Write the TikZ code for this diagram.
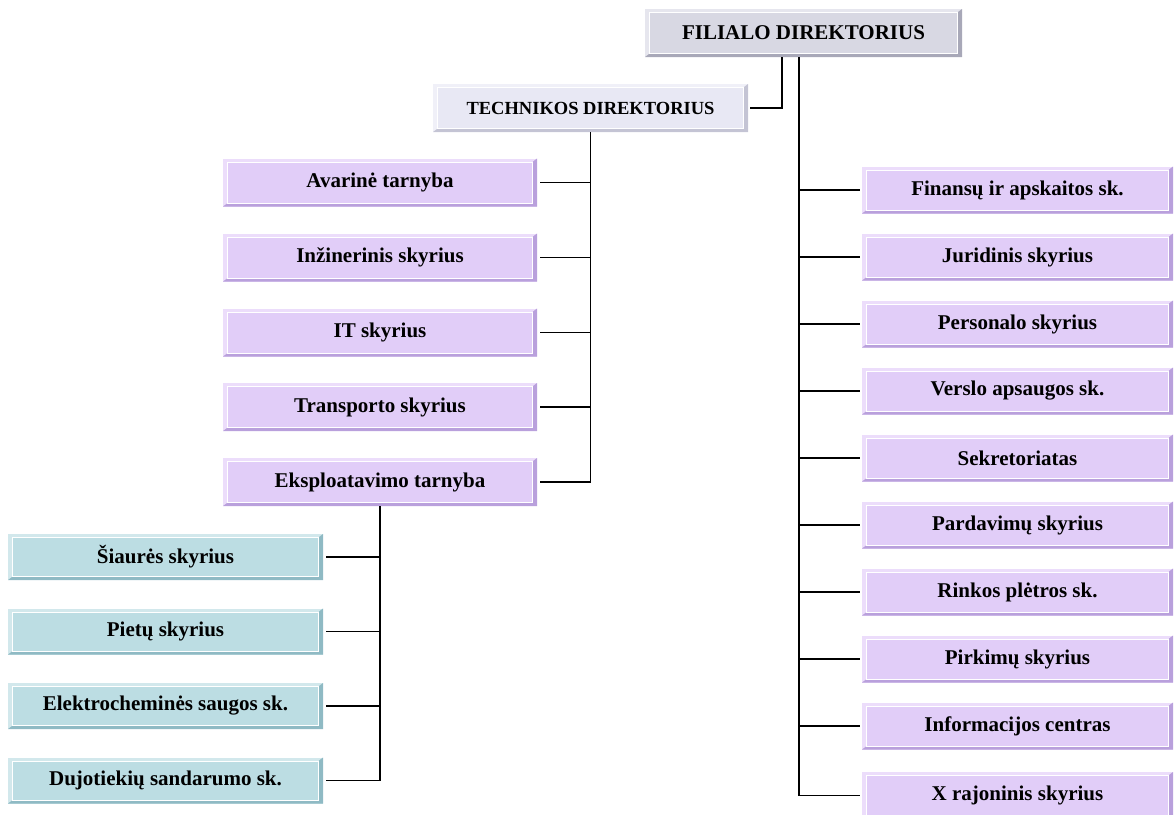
\documentclass[tikz,border=0pt]{standalone}
\usepackage{fontspec}
\setmainfont{Liberation Serif}
\definecolor{pfill}{HTML}{E1CDF8}
\definecolor{pdark}{HTML}{B9A0DC}
\definecolor{plight}{HTML}{ECDDFB}
\definecolor{bfill}{HTML}{BCDDE3}
\definecolor{bdark}{HTML}{8FBAC4}
\definecolor{blight}{HTML}{D2E8EC}
\definecolor{gfill}{HTML}{D8D8E3}
\definecolor{gdark}{HTML}{A8A8B8}
\definecolor{glight}{HTML}{E6E6EE}
\definecolor{tfill}{HTML}{E8E8F4}
\definecolor{tdark}{HTML}{C4C4D4}
\definecolor{tlight}{HTML}{F0F0F8}
\tikzset{
  bevel/.style n args={3}{
    fill=#1, inner sep=0pt, font=\bfseries\fontsize{21}{23}\selectfont,
    path picture={
      \fill[#3] (path picture bounding box.north west) rectangle (path picture bounding box.south east);
      \fill[#2] (path picture bounding box.north east) -- (path picture bounding box.south east)
        -- (path picture bounding box.south west) -- ([shift={(4pt,3pt)}]path picture bounding box.south west)
        -- ([shift={(-4pt,3pt)}]path picture bounding box.south east) -- ([shift={(-4pt,-3pt)}]path picture bounding box.north east) -- cycle;
      \draw[white, line width=1pt] ([shift={(4.5pt,3.5pt)}]path picture bounding box.south west) rectangle ([shift={(-4.5pt,-3.5pt)}]path picture bounding box.north east);
      \fill[#1] ([shift={(5pt,4pt)}]path picture bounding box.south west) rectangle ([shift={(-5pt,-4pt)}]path picture bounding box.north east);
    }},
  pbox/.style={bevel={pfill}{pdark}{plight}, minimum width=314pt, minimum height=48pt},
  rbox/.style={bevel={pfill}{pdark}{plight}, minimum width=311pt, minimum height=47pt},
  bbox/.style={bevel={bfill}{bdark}{blight}, minimum width=315pt, minimum height=46pt},
  gbox/.style={bevel={gfill}{gdark}{glight}, minimum width=317pt, minimum height=48pt},
  tbox/.style={bevel={tfill}{tdark}{tlight}, minimum width=315pt, minimum height=48pt, font=\bfseries\fontsize{18.5}{20}\selectfont},
  conn/.style={line width=1.5pt, black}
}
\begin{document}
\begin{tikzpicture}[x=1pt,y=-1pt]
\useasboundingbox (0,0) rectangle (1175,814);
\clip (0,0) rectangle (1175,814);
\node[gbox] (fil) at (803.5,33) {FILIALO DIREKTORIUS};
\node[tbox] (tech) at (590.5,108) {TECHNIKOS DIREKTORIUS};
\node[pbox] (l1) at (380,182.5) {Avarinė tarnyba};
\node[pbox] (l2) at (380,257.5) {Inžinerinis skyrius};
\node[pbox] (l3) at (380,332.5) {IT skyrius};
\node[pbox] (l4) at (380,407) {Transporto skyrius};
\node[pbox] (l5) at (380,482) {Eksploatavimo tarnyba};
\node[bbox] (b1) at (165.5,557) {Šiaurės skyrius};
\node[bbox] (b2) at (165.5,631.5) {Pietų skyrius};
\node[bbox] (b3) at (165.5,706) {Elektrocheminės saugos sk.};
\node[bbox] (b4) at (165.5,780.5) {Dujotiekių sandarumo sk.};
\node[rbox] (r1) at (1017.5,190) {Finansų ir apskaitos sk.};
\node[rbox] (r2) at (1017.5,257) {Juridinis skyrius};
\node[rbox] (r3) at (1017.5,324) {Personalo skyrius};
\node[rbox] (r4) at (1017.5,391) {Verslo apsaugos sk.};
\node[rbox] (r5) at (1017.5,458) {Sekretoriatas};
\node[rbox] (r6) at (1017.5,525) {Pardavimų skyrius};
\node[rbox] (r7) at (1017.5,592) {Rinkos plėtros sk.};
\node[rbox] (r8) at (1017.5,659) {Pirkimų skyrius};
\node[rbox] (r9) at (1017.5,726) {Informacijos centras};
\node[rbox] (r10) at (1017.5,795.5) {X rajoninis skyrius};
% connectors
\coordinate (ft) at ([xshift=-21.5pt]fil.south);
\coordinate (rt) at ([xshift=-4.5pt]fil.south);
\draw[conn] (ft) |- ([xshift=2pt]tech.east);
\draw[conn] (rt) |- ([xshift=-2pt]r10.west);
\foreach \i in {1,...,9} \draw[conn] ([xshift=-2pt]r\i.west) -- (r\i.west -| rt);
\draw[conn] (tech.south) |- ([xshift=3pt]l5.east);
\foreach \i in {1,...,4} \draw[conn] ([xshift=3pt]l\i.east) -- (l\i.east -| tech.south);
\draw[conn] (l5.south) |- ([xshift=3pt]b4.east);
\foreach \i in {1,...,3} \draw[conn] ([xshift=3pt]b\i.east) -- (b\i.east -| l5.south);
\end{tikzpicture}
\end{document}
